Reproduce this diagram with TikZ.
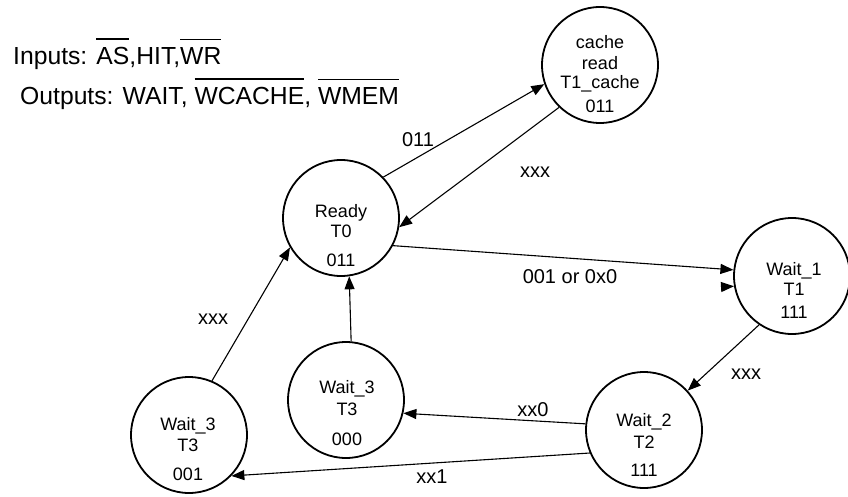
\documentclass[tikz,border=0pt]{standalone}
\usepackage{fontspec}
\setmainfont{Liberation Sans}
\usetikzlibrary{arrows.meta}
\newcommand\myovl[1]{\setbox0\hbox{#1}\rlap{\raisebox{\dimexpr\ht0+8pt\relax}{\rule{\wd0}{1.3pt}}}\box0}
\begin{document}
\begin{tikzpicture}[x=1pt,y=-1pt,
  state/.style={circle,draw,line width=1.8pt,minimum size=116pt,inner sep=0pt},
  stxt/.style={font=\fontsize{18}{20}\selectfont,anchor=base,inner sep=0pt},
  lbl/.style={font=\fontsize{20}{22}\selectfont,anchor=base,inner sep=0pt},
  hdr/.style={font=\fontsize{24.7}{28}\selectfont,anchor=base west,inner sep=0pt},
  conn/.style={line width=1.1pt,-{Triangle[length=13pt,width=10pt]}}]
\useasboundingbox (0,0) rectangle (848,497);

% header
\node[hdr] (inputs) at (13,65) {Inputs: \myovl{AS},HIT,\myovl{WR}};
\node[hdr] (outputs) at (20,105) {Outputs: WAIT, \myovl{WCACHE}, \myovl{WMEM}};

% states
\node[state] (cache) at (600,65) {};
\node[state] (ready) at (341,218) {};
\node[state] (w1) at (792,276) {};
\node[state] (w2) at (644,430) {};
\node[state] (w3m) at (346,400) {};
\node[state] (w3l) at (189,435) {};

% state texts
\node[stxt] (cache-a) at (600,49) {cache};
\node[stxt] (cache-b) at (600,70) {read};
\node[stxt] (cache-c) at (600,89) {T1\_cache};
\node[stxt] (cache-d) at (600,113) {011};

\node[stxt] (ready-a) at (341,217) {Ready};
\node[stxt] (ready-b) at (341,237) {T0};
\node[stxt] (ready-c) at (341,266) {011};

\node[stxt] (w1-a) at (794,275) {Wait\_1};
\node[stxt] (w1-b) at (794,295) {T1};
\node[stxt] (w1-c) at (794,318) {111};

\node[stxt] (w2-a) at (644,426) {Wait\_2};
\node[stxt] (w2-b) at (644,448) {T2};
\node[stxt] (w2-c) at (644,476) {111};

\node[stxt] (w3m-a) at (347,393) {Wait\_3};
\node[stxt] (w3m-b) at (347,415) {T3};
\node[stxt] (w3m-c) at (347,445) {000};

\node[stxt] (w3l-a) at (188,430) {Wait\_3};
\node[stxt] (w3l-b) at (188,451) {T3};
\node[stxt] (w3l-c) at (188,480) {001};

% connectors
\draw[conn] (ready.44.3) -- (cache.199.7);
\draw[conn] (cache.226.4) -- (ready.351);
\draw[conn] (ready.332.6) -- (w1.174);
\draw[conn] (w1.236.8) -- (w2.42.5);
\draw[conn] (w2.174) -- (w3m.347.2);
\draw[conn] (w2.203.7) -- (w3l.316.3);
\draw[conn] (w3l.67.7) -- (ready.210.6);
\draw[conn] (w3m.85) -- (ready.278.5);
\coordinate (stray) at (721,287);
\draw[conn] (stray) -- (w1.190.7);

% labels
\node[lbl] (l011) at (418,147) {011};
\node[lbl] (lxxx1) at (535,178) {xxx};
\node[lbl] (l001) at (570,283) {001 or 0x0};
\node[lbl] (lxxx2) at (746,379) {xxx};
\node[lbl] (lxx0) at (533,416) {xx0};
\node[lbl] (lxx1) at (432,483) {xx1};
\node[lbl] (lxxx3) at (213,324) {xxx};
\end{tikzpicture}
\end{document}
